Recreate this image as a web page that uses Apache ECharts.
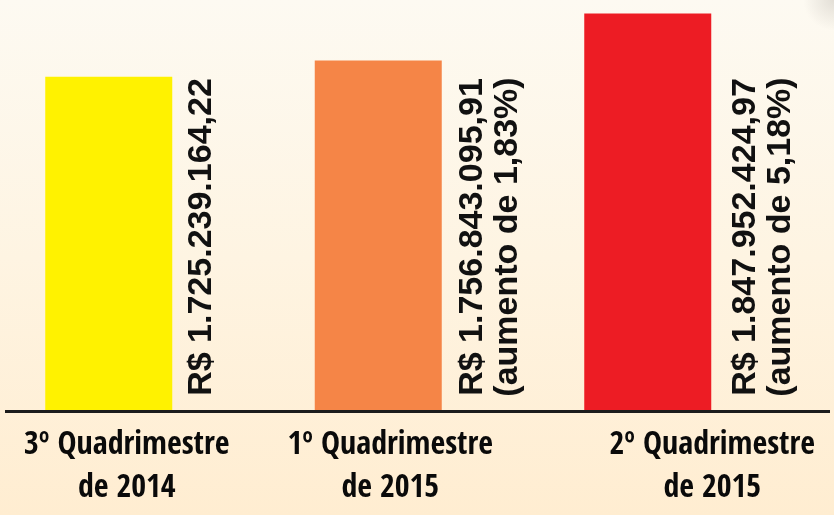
<!DOCTYPE html>
<html>
<head>
<meta charset="utf-8">
<script src="https://cdn.jsdelivr.net/npm/echarts@6/dist/echarts.min.js"></script>
<style>
html,body{margin:0;padding:0;background:#FEF6E6;}
#chart{width:834px;height:515px;}
</style>
</head>
<body>
<div id="chart"></div>
<script>
const categories = ['3º Quadrimestre\nde 2014', '1º Quadrimestre\nde 2015', '2º Quadrimestre\nde 2015'];
const values = [1725239164.22, 1756843095.91, 1847952424.97];
const valueLabels = [
  'R$ 1.725.239.164,22',
  'R$ 1.756.843.095,91\n(aumento de 1,83%)',
  'R$ 1.847.952.424,97\n(aumento de 5,18%)'
];
const barColors = ['#FFF200', '#F58547', '#ED1C24'];
const labelShift = [36, 24, 129];
const valueLabelGap = [12, 13, 17];

const chart = echarts.init(document.getElementById('chart'), null, {renderer: 'canvas'});

const option = {
  animation: false,
  graphic: [
    {
      type: 'rect', z: -10, silent: true,
      shape: {x: 0, y: 0, width: 834, height: 515},
      style: {
        fill: new echarts.graphic.LinearGradient(0, 0, 0, 1, [
          {offset: 0, color: '#FDFAF2'},
          {offset: 0.5, color: '#FEF4E2'},
          {offset: 1, color: '#FFEDD1'}
        ])
      }
    },
    {
      type: 'rect', z: -9, silent: true,
      shape: {x: 800, y: 0, width: 34, height: 515},
      style: {
        fill: new echarts.graphic.RadialGradient(1, 0, 0.9, [
          {offset: 0, color: 'rgba(205,200,192,0.55)'},
          {offset: 1, color: 'rgba(205,200,192,0)'}
        ])
      }
    },
    {
      type: 'line', z: 100, silent: true,
      shape: {x1: 5, y1: 411.5, x2: 830, y2: 411.5},
      style: {stroke: '#1c1c1c', lineWidth: 3}
    }
  ],
  grid: {left: -26, width: 808.5, top: 11, bottom: 104, containLabel: false, outerBoundsMode: 'none'},
  xAxis: {
    type: 'category',
    data: categories.map((c, i) => ({
      value: c,
      textStyle: {padding: [0, 0, 0, labelShift[i]]}
    })),
    axisLine: {show: false},
    axisTick: {show: false},
    axisLabel: {
      interval: 0,
      margin: 13,
      color: '#0a0a0a',
      fontFamily: "'Open Sans Condensed', 'Roboto Condensed', sans-serif",
      fontWeight: 'bold',
      fontSize: 32,
      lineHeight: 43,
      align: 'center'
    }
  },
  yAxis: {
    type: 'value',
    min: 1078300000,
    max: 1852600000,
    show: false,
    splitLine: {show: false}
  },
  series: [{
    type: 'bar',
    barWidth: 127,
    data: values.map((v, i) => ({
      value: v,
      itemStyle: {color: barColors[i]},
      label: {offset: [174, valueLabelGap[i]]}
    })),
    label: {
      show: true,
      position: ['100%', '100%'],
      rotate: 90,
      offset: [174, 12],
      align: 'center',
      verticalAlign: 'top',
      fontFamily: "'Liberation Sans', Arial, sans-serif",
      fontWeight: 'bold',
      fontSize: 34,
      lineHeight: 35,
      color: '#111',
      formatter: p => valueLabels[p.dataIndex]
    }
  }]
};
chart.setOption(option);
</script>
</body>
</html>
